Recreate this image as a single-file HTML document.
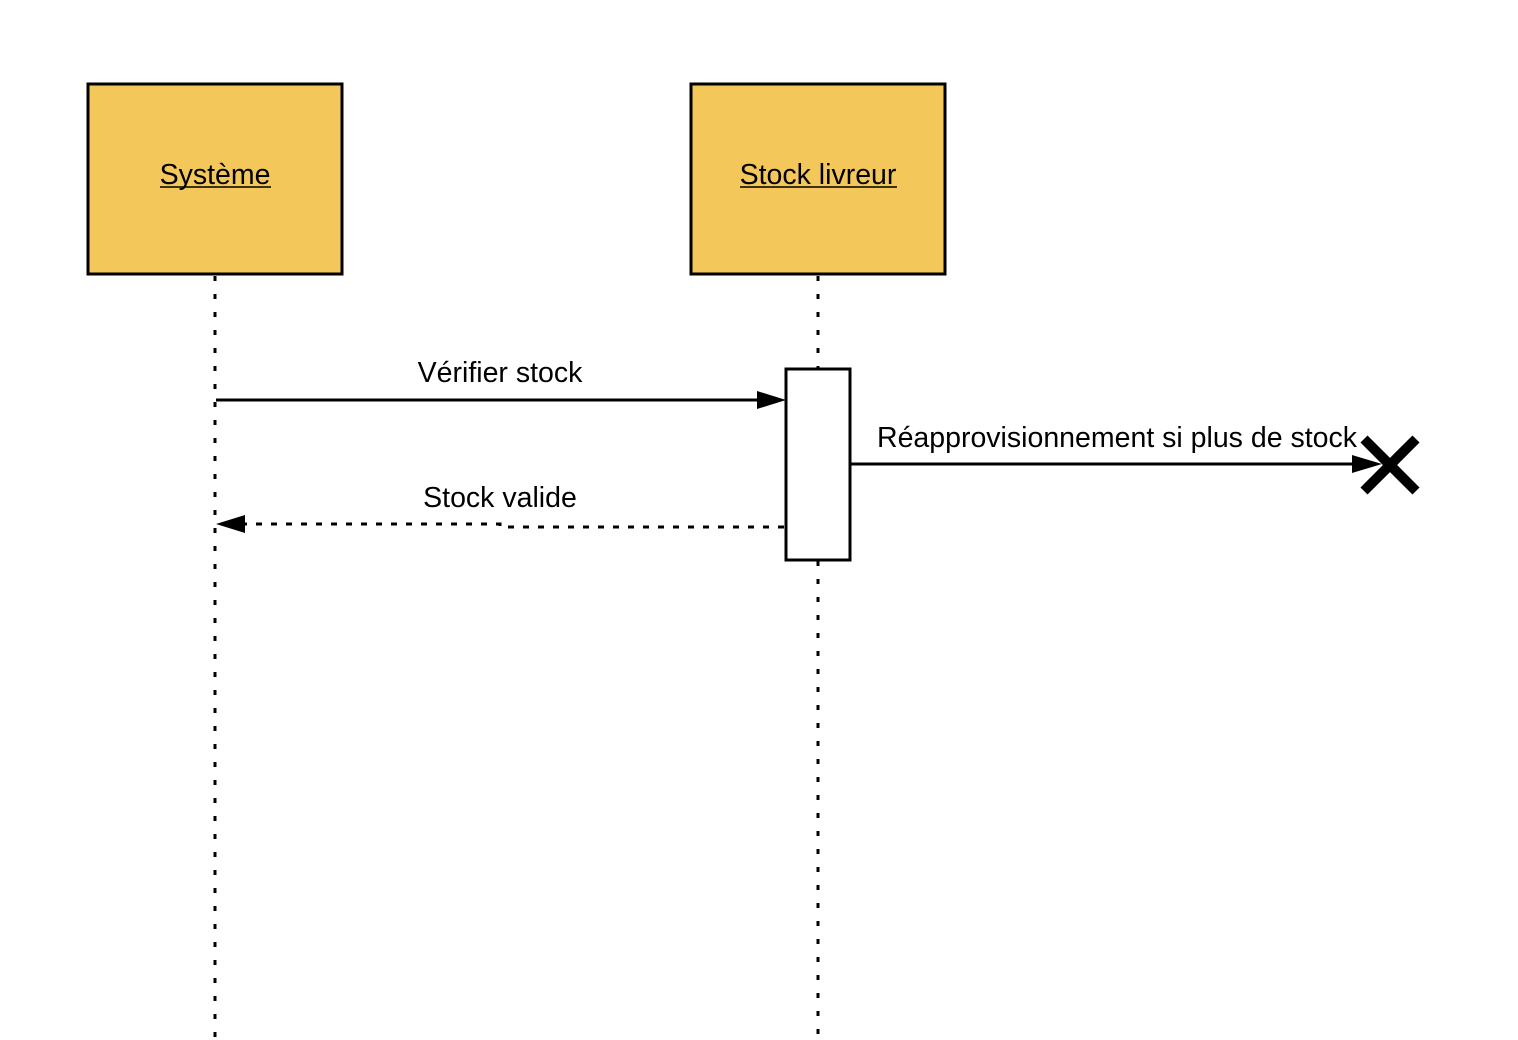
<!DOCTYPE html>
<html><head><meta charset="utf-8"><style>
html,body{margin:0;padding:0;background:#fff;}
svg{display:block;}
text{font-family:"Liberation Sans",sans-serif;fill:#000;}
</style></head><body>
<svg width="1518" height="1040" viewBox="0 0 1518 1040">
<rect x="88" y="84" width="254" height="190" fill="#f4c75a" stroke="#000" stroke-width="3"/>
<rect x="691" y="84" width="254" height="190" fill="#f4c75a" stroke="#000" stroke-width="3"/>
<text x="215" y="184" font-size="28.5" text-anchor="middle">Système</text>
<line x1="160" y1="187" x2="271" y2="187" stroke="#000" stroke-width="1.5"/>
<text x="818" y="184" font-size="28.5" text-anchor="middle">Stock livreur</text>
<line x1="740" y1="187" x2="897" y2="187" stroke="#000" stroke-width="1.5"/>
<line x1="215" y1="276" x2="215" y2="1040" stroke="#000" stroke-width="3" stroke-dasharray="5 13"/>
<line x1="818" y1="276" x2="818" y2="369" stroke="#000" stroke-width="3" stroke-dasharray="5 13"/>
<line x1="818" y1="561" x2="818" y2="1040" stroke="#000" stroke-width="3" stroke-dasharray="5 13"/>
<rect x="786" y="369" width="64" height="191" fill="#fff" stroke="#000" stroke-width="3"/>
<line x1="216" y1="400" x2="760" y2="400" stroke="#000" stroke-width="3"/>
<polygon points="786,400 757,391 757,409" fill="#000"/>
<text x="500" y="382" font-size="28.5" text-anchor="middle">Vérifier stock</text>
<polyline points="784,527 500,527 500,524 244,524" fill="none" stroke="#000" stroke-width="3" stroke-dasharray="6 9"/>
<polygon points="216,524 245,515 245,533" fill="#000"/>
<text x="500" y="507" font-size="28.5" text-anchor="middle">Stock valide</text>
<line x1="851" y1="464" x2="1355" y2="464" stroke="#000" stroke-width="3"/>
<polygon points="1382,464 1352,455 1352,473" fill="#000"/>
<text x="1117" y="447" font-size="28.5" text-anchor="middle">Réapprovisionnement si plus de stock</text>
<line x1="1364" y1="439" x2="1416" y2="491" stroke="#000" stroke-width="10"/>
<line x1="1416" y1="439" x2="1364" y2="491" stroke="#000" stroke-width="10"/>
</svg>
</body></html>
